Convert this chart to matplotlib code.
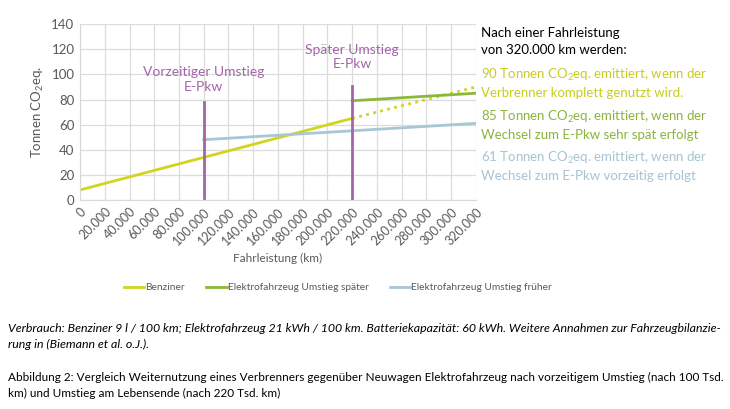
import numpy as np
import matplotlib.pyplot as plt

plt.rcParams['font.family'] = ['Lato', 'DejaVu Sans']
plt.rcParams['mathtext.fontset'] = 'custom'
plt.rcParams['mathtext.rm'] = 'Lato'

# daten (km, Tonnen CO2eq.)
km_benz = [0, 220000]
co2_benz = [8, 65]
km_benz_rest = [220000, 320000]
co2_benz_rest = [65, 90]
km_spaet = [220000, 320000]
co2_spaet = [79, 85]
km_frueh = [100000, 320000]
co2_frueh = [48, 61]

umstieg_km = [100000, 220000]
umstieg_top = [78, 91]
umstieg_txt = ["Vorzeitiger Umstieg\nE-Pkw", "Später Umstieg\nE-Pkw"]
umstieg_txt_y = [96, 114]

xticks = np.arange(0, 320001, 20000)

c_benz = '#d2d41e'
c_spaet = '#8cb83a'
c_frueh = '#a7c6d6'
c_lila = '#a266a8'
c_grau = '#595959'

fig = plt.figure(figsize=(7.3, 4.09), dpi=100)
ax = fig.add_axes([0.1096, 0.511, 0.5424, 0.43])

ax.plot(km_benz, co2_benz, color=c_benz, lw=2, label='Benziner')
ax.plot(km_benz_rest, co2_benz_rest, color=c_benz, lw=2, ls=(0, (1, 1.6)))
ax.plot(km_spaet, co2_spaet, color=c_spaet, lw=2, label='Elektrofahrzeug Umstieg später')
ax.plot(km_frueh, co2_frueh, color=c_frueh, lw=2, label='Elektrofahrzeug Umstieg früher')

for xk, top, t, ty in zip(umstieg_km, umstieg_top, umstieg_txt, umstieg_txt_y):
	ax.plot([xk, xk], [0, top], color=c_lila, lw=2)
	ax.text(xk, ty, t, color=c_lila, fontsize=10, ha='center', va='center', linespacing=1.25)

ax.set_xlim(0, 320000)
ax.set_ylim(0, 140)
ax.set_yticks(np.arange(0, 141, 20))
ax.set_xticks(xticks)
ax.set_xticklabels([f"{v:,}".replace(',', '.') for v in xticks], rotation=45,
                   ha='right', rotation_mode='anchor', fontsize=9, color=c_grau)
ax.tick_params(axis='y', labelsize=9.5, labelcolor=c_grau)
ax.tick_params(length=0, pad=4)
ax.grid(True, color='#dcdcdc', lw=0.9)
ax.set_axisbelow(True)
for s in ['top', 'right']:
	ax.spines[s].set_visible(False)
for s in ['left', 'bottom']:
	ax.spines[s].set_color('#d9d9d9')
ax.set_xlabel('Fahrleistung (km)', fontsize=8.5, color=c_grau, labelpad=4)
ax.set_ylabel('Tonnen CO$_2$eq.', fontsize=9.5, color=c_grau, labelpad=4)

fig.legend(loc='center', bbox_to_anchor=(0.463, 0.297), ncol=3, frameon=False,
           fontsize=7.3, handlelength=2.0, handletextpad=0.1, columnspacing=2.1,
           labelcolor=c_grau)

# text rechts
tx = 481 / 730
def ytxt(p):
	return 1 - p / 409
rechts = [
	('Nach einer Fahrleistung', 33, 'black'),
	('von 320.000 km werden:', 50, 'black'),
	('90 Tonnen CO$_2$eq. emittiert, wenn der', 75, '#c9cb22'),
	('Verbrenner komplett genutzt wird.', 93, '#c9cb22'),
	('85 Tonnen CO$_2$eq. emittiert, wenn der', 117, '#8ab43c'),
	('Wechsel zum E-Pkw sehr spät erfolgt', 135, '#8ab43c'),
	('61 Tonnen CO$_2$eq. emittiert, wenn der', 158, '#a7c3d3'),
	('Wechsel zum E-Pkw vorzeitig erfolgt', 176, '#a7c3d3'),
]
for t, yp, c in rechts:
	fig.text(tx, ytxt(yp), t, fontsize=9.5, va='center', color=c)

# bildunterschrift, schriftgroesse an breite anpassen
cap = [
	('Verbrauch: Benziner 9 l / 100 km; Elektrofahrzeug 21 kWh / 100 km. Batteriekapazität: 60 kWh. Weitere Annahmen zur Fahrzeugbilanzie-', 328, 'italic'),
	('rung in (Biemann et al. o.J.).', 344, 'italic'),
	('Abbildung 2: Vergleich Weiternutzung eines Verbrenners gegenüber Neuwagen Elektrofahrzeug nach vorzeitigem Umstieg (nach 100 Tsd.', 377, 'normal'),
	('km) und Umstieg am Lebensende (nach 220 Tsd. km)', 393, 'normal'),
]
r = fig.canvas.get_renderer()
for i in [0, 2]:
	t0 = fig.text(0, 0, cap[i][0], fontsize=10, style=cap[i][2])
	w = t0.get_window_extent(r).width
	t0.remove()
	fs = 10 * 712 / w
	for t, yp, st in cap[i:i + 2]:
		fig.text(8 / 730, ytxt(yp), t, fontsize=fs, style=st, va='center')

plt.savefig('out.png', dpi=100)
